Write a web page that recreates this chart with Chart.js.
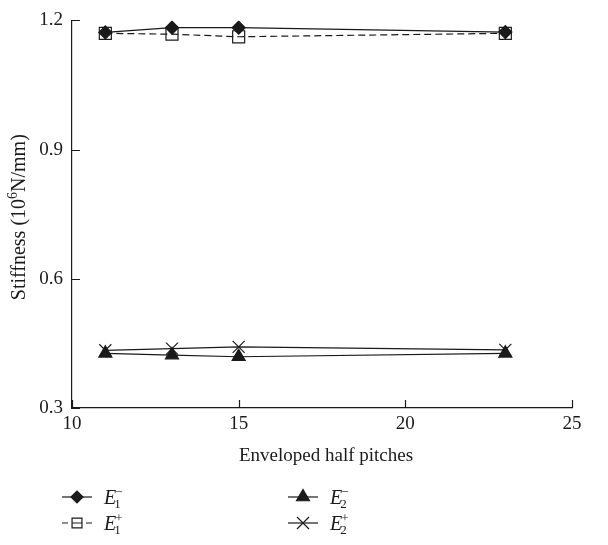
<!DOCTYPE html>
<html>
<head>
<meta charset="utf-8">
<script src="https://cdn.jsdelivr.net/npm/chart.js@4/dist/chart.umd.min.js"></script>
<style>
    html, body { margin: 0; padding: 0; background: #fff; }
    #wrap { width: 608px; height: 545px; position: relative; }
</style>
</head>
<body>
<div id="wrap"><canvas id="chart" width="608" height="545"></canvas></div>
<script>
// Data
const halfPitches = [11, 13, 15, 23];
const e1Minus = [1.172, 1.183, 1.183, 1.173];
const e1Plus = [1.170, 1.168, 1.162, 1.170];
const e2Minus = [0.427, 0.423, 0.419, 0.427];
const e2Plus = [0.434, 0.438, 0.442, 0.435];
const xTicks = [10, 15, 20, 25];
const yTicks = [0.3, 0.6, 0.9, 1.2];

const FONT = '"Liberation Serif", "DejaVu Serif", serif';
const INK = '#1a1a1a';

function pairs(ys) {
    return halfPitches.map((x, i) => ({ x: x, y: ys[i] }));
}

// Legend entries, drawn as E with subscript and superscript
const legendItems = [
    { sub: '1', sup: '\u2212', style: 'rectRot', fill: INK, dash: false, col: 0, row: 0, radius: 6 },
    { sub: '2', sup: '\u2212', style: 'triangle', fill: INK, dash: false, col: 1, row: 0, radius: 7.5 },
    { sub: '1', sup: '+', style: 'rect', fill: 'rgba(0,0,0,0)', dash: true, col: 0, row: 1, radius: 7 },
    { sub: '2', sup: '+', style: 'crossRot', fill: INK, dash: false, col: 1, row: 1, radius: 8.5 }
];

/**
 * Inward tick marks, axis titles and the bottom legend
 */
const decorations = {
    id: 'decorations',
    afterDraw(chart) {
        const ctx = chart.ctx;
        const xs = chart.scales.x;
        const ys = chart.scales.y;
        const area = chart.chartArea;

        ctx.save();
        ctx.strokeStyle = INK;
        ctx.lineWidth = 1.2;
        ctx.beginPath();
        xTicks.forEach(v => {
            const px = Math.round(xs.getPixelForValue(v)) + 0.5;
            ctx.moveTo(px, area.bottom);
            ctx.lineTo(px, area.bottom - 8);
        });
        yTicks.forEach(v => {
            const py = Math.round(ys.getPixelForValue(v)) + 0.5;
            ctx.moveTo(area.left, py);
            ctx.lineTo(area.left + 8, py);
        });
        ctx.stroke();

        // x title
        ctx.fillStyle = INK;
        ctx.font = '19px ' + FONT;
        ctx.textAlign = 'center';
        ctx.textBaseline = 'middle';
        ctx.fillText('Enveloped half pitches', (area.left + area.right) / 2 + 4, 456);

        // y title with superscript
        ctx.save();
        ctx.translate(19, (area.top + area.bottom) / 2 + 3);
        ctx.rotate(-Math.PI / 2);
        const p1 = 'Stiffness (10';
        const p2 = '6';
        const p3 = 'N/mm)';
        ctx.font = '20px ' + FONT;
        const w1 = ctx.measureText(p1).width;
        const w3 = ctx.measureText(p3).width;
        ctx.font = '14px ' + FONT;
        const w2 = ctx.measureText(p2).width;
        const x0 = -(w1 + w2 + w3) / 2;
        ctx.textAlign = 'left';
        ctx.textBaseline = 'alphabetic';
        ctx.font = '20px ' + FONT;
        ctx.fillText(p1, x0, 6);
        ctx.font = '14px ' + FONT;
        ctx.fillText(p2, x0 + w1, -2);
        ctx.font = '20px ' + FONT;
        ctx.fillText(p3, x0 + w1 + w2, 6);
        ctx.restore();

        // legend
        const colX = [62, 288];
        const rowY = [497, 523];
        legendItems.forEach(item => {
            const lx = colX[item.col];
            const ly = rowY[item.row];
            ctx.save();
            ctx.strokeStyle = INK;
            ctx.lineWidth = 1.2;
            ctx.beginPath();
            if (item.dash) {
                ctx.moveTo(lx, ly); ctx.lineTo(lx + 6, ly);
                ctx.moveTo(lx + 24, ly); ctx.lineTo(lx + 30, ly);
                ctx.moveTo(lx + 10, ly); ctx.lineTo(lx + 20, ly);
            } else {
                ctx.moveTo(lx, ly); ctx.lineTo(lx + 30, ly);
            }
            ctx.stroke();
            ctx.fillStyle = item.fill;
            Chart.helpers.drawPoint(ctx, {
                pointStyle: item.style,
                radius: item.radius,
                rotation: 0,
                borderWidth: 1.2
            }, lx + 15, ly);
            ctx.restore();

            const tx = lx + 42;
            ctx.fillStyle = INK;
            ctx.textAlign = 'left';
            ctx.textBaseline = 'alphabetic';
            ctx.font = 'italic 20px ' + FONT;
            ctx.fillText('E', tx, ly + 7);
            const we = ctx.measureText('E').width;
            ctx.font = '13px ' + FONT;
            ctx.fillText(item.sub, tx + we - 2, ly + 11);
            ctx.fillText(item.sup, tx + we - 1, ly - 1);
        });
        ctx.restore();
    }
};

function lineSet(label, ys, style, fill, dash, radius, order) {
    return {
        label: label,
        data: pairs(ys),
        borderColor: INK,
        backgroundColor: fill,
        borderWidth: 1.2,
        borderDash: dash,
        pointStyle: style,
        pointRadius: radius,
        pointHoverRadius: radius,
        pointBorderColor: INK,
        pointBackgroundColor: fill,
        pointBorderWidth: 1.2,
        tension: 0,
        fill: false,
        order: order
    };
}

const ctx = document.getElementById('chart').getContext('2d');
new Chart(ctx, {
    type: 'line',
    data: {
        datasets: [
            lineSet('E1-', e1Minus, 'rectRot', INK, [], 6.5, 1),
            lineSet('E1+', e1Plus, 'rect', 'rgba(255,255,255,0)', [7, 4], 8.5, 2),
            lineSet('E2-', e2Minus, 'triangle', INK, [], 7.5, 3),
            lineSet('E2+', e2Plus, 'crossRot', INK, [], 8.5, 4)
        ]
    },
    options: {
        responsive: false,
        animation: false,
        devicePixelRatio: 1,
        layout: { padding: { left: 0, right: 36, top: 20, bottom: 0 } },
        plugins: {
            legend: { display: false },
            tooltip: { enabled: false }
        },
        scales: {
            x: {
                type: 'linear',
                min: 10,
                max: 25,
                afterBuildTicks: scale => { scale.ticks = xTicks.map(v => ({ value: v })); },
                afterFit: scale => { scale.height = 137; },
                grid: { display: false, drawTicks: false },
                border: { display: true, color: INK, width: 1.2 },
                ticks: {
                    color: INK,
                    padding: 5,
                    maxRotation: 0,
                    font: { family: FONT, size: 19 }
                }
            },
            y: {
                type: 'linear',
                min: 0.3,
                max: 1.2,
                afterBuildTicks: scale => { scale.ticks = yTicks.map(v => ({ value: v })); },
                afterFit: scale => { scale.width = 72; },
                grid: { display: false, drawTicks: false },
                border: { display: true, color: INK, width: 1.2 },
                ticks: {
                    color: INK,
                    padding: 9,
                    font: { family: FONT, size: 19 },
                    callback: v => v.toFixed(1)
                }
            }
        }
    },
    plugins: [decorations]
});
</script>
</body>
</html>
